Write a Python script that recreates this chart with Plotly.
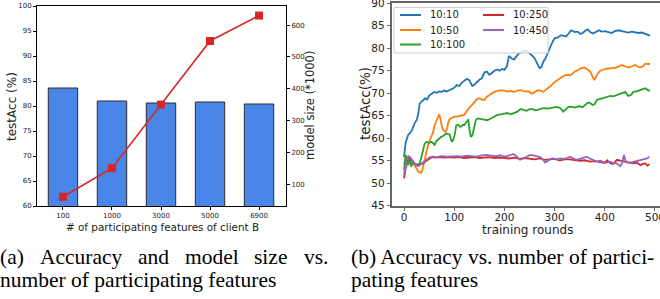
import plotly.graph_objects as go

W, H = 660, 299

# ---------------- data: (a) accuracy & model size ----------------
feature_labels = ["100", "1000", "3000", "5000", "6900"]
test_acc = [83.6, 81.0, 80.6, 80.8, 80.4]
model_size = [60, 150, 350, 550, 630]
size_ticks = [100, 200, 300, 400, 500, 600]

# ---------------- data: (b) accuracy vs rounds ----------------
series_names = ["10:10", "10:50", "10:100", "10:250", "10:450"]
series_colors = ["#1f77b4", "#ff7f0e", "#2ca02c", "#d62728", "#9467bd"]

r_1010 = [0, 3, 8, 12, 15, 21, 25, 28, 31, 34, 38, 42, 46, 50, 55, 60, 65, 70, 75, 80, 85, 90, 95, 100,
          105, 110, 115, 120, 125, 130, 136, 140, 145, 150, 155, 160, 165, 170, 175, 180, 186, 190, 195,
          200, 205, 209, 214, 219, 224, 229, 235, 240, 245, 250, 255, 260, 265, 270, 274, 277, 282, 286,
          290, 295, 300, 306, 313, 318, 323, 328, 333, 340, 346, 351, 356, 361, 366, 371, 376, 382, 388,
          394, 401, 407, 414, 420, 427, 434, 441, 447, 454, 460, 467, 474, 481, 486, 490]
acc_1010 = [55.8, 58.9, 60.7, 61.3, 61.6, 63.3, 64.0, 65.2, 67.6, 68.1, 68.4, 68.9, 68.6, 69.5, 70.0, 70.3,
            70.1, 70.4, 70.3, 70.6, 70.4, 70.7, 71.0, 71.2, 71.8, 71.6, 72.3, 72.8, 73.2, 72.9, 71.6, 71.9,
            72.5, 73.0, 73.3, 74.6, 74.8, 74.1, 74.5, 75.0, 75.3, 75.0, 75.4, 75.2, 76.0, 78.3, 77.8, 77.5,
            78.2, 78.9, 79.2, 79.5, 79.4, 79.0, 78.4, 77.8, 76.8, 75.6, 75.8, 76.9, 77.8, 78.9, 80.0, 81.2,
            82.2, 82.4, 82.9, 82.7, 82.6, 83.3, 84.0, 83.6, 83.7, 83.2, 83.4, 83.9, 84.2, 83.6, 83.3, 83.6,
            84.0, 83.7, 83.8, 83.6, 83.4, 83.8, 84.0, 83.8, 83.7, 83.5, 83.7, 83.6, 83.4, 83.5, 83.2, 82.9, 82.8]

r_1050 = [0, 2, 5, 8, 11, 14, 18, 21, 25, 28, 31, 34, 36, 39, 42, 45, 48, 51, 54, 58, 61, 64, 67, 70, 73,
          76, 79, 82, 85, 88, 91, 95, 100, 105, 110, 115, 120, 125, 130, 137, 141, 145, 150, 155, 160, 165,
          170, 175, 180, 186, 193, 200, 206, 213, 220, 226, 233, 240, 249, 253, 257, 262, 267, 272, 277,
          282, 287, 292, 297, 303, 310, 315, 320, 325, 330, 335, 340, 346, 353, 360, 366, 371, 376, 379,
          382, 386, 391, 397, 404, 410, 416, 421, 427, 434, 440, 447, 454, 461, 466, 470, 476, 481, 486, 490]
acc_1050 = [54.4, 55.0, 55.9, 55.6, 55.8, 55.0, 54.4, 53.8, 53.3, 52.6, 52.5, 52.3, 52.8, 54.6, 55.6, 57.2,
            58.5, 59.5, 60.3, 61.4, 62.9, 63.8, 64.8, 65.3, 64.0, 62.3, 61.6, 61.5, 61.8, 63.5, 64.3, 64.6,
            64.8, 64.8, 64.9, 65.0, 65.2, 66.0, 66.8, 67.6, 68.3, 68.7, 68.9, 68.6, 68.5, 69.2, 69.6, 70.0,
            70.3, 70.5, 70.7, 70.6, 70.4, 70.5, 70.3, 70.6, 70.7, 70.4, 70.4, 70.0, 70.0, 70.4, 70.7, 70.6,
            70.3, 70.7, 71.1, 71.6, 72.2, 72.8, 73.3, 73.6, 74.0, 74.1, 74.0, 74.3, 74.8, 75.1, 75.6, 75.7,
            75.3, 74.8, 73.6, 72.9, 73.6, 74.4, 75.0, 75.3, 75.5, 75.5, 75.7, 75.6, 75.9, 76.3, 76.0, 75.7,
            76.0, 76.3, 75.9, 75.7, 76.0, 76.6, 76.5, 76.5]

r_10100 = [0, 3, 6, 8, 11, 14, 18, 21, 25, 28, 31, 34, 38, 41, 45, 50, 55, 58, 61, 64, 68, 71, 74, 78, 84,
           88, 91, 95, 98, 101, 104, 108, 111, 114, 117, 120, 124, 128, 131, 133, 136, 140, 143, 146, 150,
           155, 160, 166, 173, 180, 186, 193, 199, 206, 213, 220, 226, 232, 239, 244, 249, 255, 261, 267,
           273, 280, 287, 293, 300, 307, 312, 317, 322, 327, 333, 340, 346, 351, 356, 361, 366, 371, 376,
           380, 384, 390, 397, 404, 411, 417, 424, 429, 434, 441, 444, 447, 452, 457, 463, 470, 476, 481,
           486, 490]
acc_10100 = [52.9, 56.3, 55.2, 54.0, 55.6, 53.7, 54.8, 54.4, 54.0, 54.2, 54.4, 55.5, 57.8, 58.8, 59.2, 59.0,
             59.2, 58.8, 58.5, 59.3, 59.6, 60.0, 60.3, 60.5, 61.1, 61.0, 60.8, 59.2, 59.6, 60.8, 62.9, 63.0,
             62.6, 62.6, 63.0, 62.9, 63.6, 64.2, 61.5, 60.3, 60.6, 62.6, 64.0, 64.4, 64.3, 64.3, 64.2, 64.0,
             64.4, 64.8, 65.2, 65.3, 65.5, 65.6, 65.3, 65.6, 65.9, 66.5, 66.3, 66.1, 66.4, 66.5, 66.2, 66.3,
             66.6, 66.7, 66.6, 66.8, 66.9, 66.9, 66.6, 65.9, 66.5, 66.9, 67.0, 66.8, 67.0, 67.1, 66.9, 67.3,
             67.9, 67.8, 67.4, 67.6, 68.5, 68.7, 68.9, 69.2, 69.4, 69.3, 69.6, 69.8, 70.1, 70.3, 69.8, 69.4,
             69.6, 70.3, 70.4, 70.7, 70.8, 71.1, 70.7, 70.5]

r_10250 = [0, 3, 5, 9, 12, 15, 18, 21, 25, 28, 31, 34, 38, 41, 45, 48, 52, 56, 62, 70, 80, 90, 100, 110,
           120, 130, 140, 150, 160, 170, 180, 190, 200, 210, 220, 230, 240, 251, 260, 270, 280, 291, 300,
           310, 320, 331, 340, 350, 360, 371, 381, 391, 400, 405, 411, 417, 424, 431, 438, 444, 451, 458,
           464, 471, 476, 481, 485, 489]
acc_10250 = [51.1, 52.8, 54.6, 55.8, 55.6, 55.1, 54.7, 54.3, 54.2, 54.0, 54.2, 54.3, 54.4, 54.7, 55.0, 55.3,
             55.6, 55.8, 55.7, 55.8, 55.7, 55.8, 55.7, 55.8, 55.6, 55.7, 55.8, 55.6, 55.7, 55.8, 55.6, 55.7,
             55.6, 55.5, 55.7, 55.4, 55.6, 55.5, 55.3, 55.5, 55.2, 55.3, 55.4, 55.1, 55.3, 55.3, 55.2, 55.0,
             55.1, 54.8, 54.9, 54.6, 54.5, 55.1, 54.4, 54.3, 55.2, 55.0, 54.8, 54.6, 54.5, 54.4, 54.6, 54.0,
             54.3, 54.4, 53.9, 54.2]

r_10450 = [0, 3, 5, 9, 12, 15, 18, 21, 25, 28, 31, 34, 38, 41, 45, 48, 52, 58, 65, 75, 85, 95, 105, 115,
           125, 135, 145, 155, 165, 175, 185, 192, 198, 205, 212, 218, 224, 231, 238, 245, 251, 258, 265,
           271, 276, 281, 287, 292, 297, 304, 311, 318, 324, 331, 337, 344, 350, 357, 364, 370, 377, 384,
           391, 397, 404, 411, 417, 424, 428, 431, 435, 438, 441, 444, 451, 458, 464, 471, 477, 484, 489]
acc_10450 = [52.0, 53.8, 55.0, 56.0, 55.8, 55.3, 54.7, 54.3, 54.0, 53.8, 54.0, 54.3, 54.6, 54.9, 55.2, 55.5,
             55.8, 55.9, 55.8, 56.0, 55.9, 56.0, 56.0, 55.9, 56.1, 56.0, 55.9, 56.2, 56.3, 56.1, 56.0, 56.2,
             55.9, 56.0, 56.2, 56.5, 56.0, 55.2, 55.5, 56.0, 56.3, 56.2, 56.0, 55.8, 55.4, 54.6, 55.0, 55.4,
             55.5, 55.3, 55.5, 55.4, 55.6, 55.9, 55.5, 55.2, 55.4, 55.7, 55.9, 55.5, 55.2, 54.8, 55.0, 54.7,
             54.6, 54.8, 54.5, 54.4, 54.0, 53.8, 54.6, 56.3, 55.2, 54.6, 54.6, 54.8, 55.0, 55.2, 55.3, 55.5, 55.9]

round_ticks = [0, 100, 200, 300, 400, 500]
series_x = [r_1010, r_1050, r_10100, r_10250, r_10450]
series_y = [acc_1010, acc_1050, acc_10100, acc_10250, acc_10450]


def px(x):
    return x / W


def py(y):
    return 1 - y / H


fig = go.Figure()

fig.add_trace(go.Bar(
    x=list(range(len(feature_labels))), y=test_acc, width=0.6,
    marker=dict(color="#4a86e8", line=dict(color="#2b2b2b", width=1)),
    xaxis="x", yaxis="y", showlegend=False))

fig.add_trace(go.Scatter(
    x=list(range(len(feature_labels))), y=model_size, mode="lines+markers",
    line=dict(color="#d62728", width=1.6),
    marker=dict(symbol="square", size=8, color="#d62728"),
    xaxis="x", yaxis="y2", showlegend=False))

for name, xs, ys, col in zip(series_names, series_x, series_y, series_colors):
    fig.add_trace(go.Scatter(x=xs, y=ys, mode="lines", name=name,
                             line=dict(color=col, width=1.8),
                             xaxis="x2", yaxis="y3", showlegend=False))

dark = "#222222"
gray = "#666666"

fig.update_layout(
    width=W, height=H, margin=dict(l=0, r=0, t=0, b=0, pad=0, autoexpand=False),
    paper_bgcolor="white", plot_bgcolor="white",
    font=dict(family="DejaVu Sans", color=dark),
    showlegend=False,
    xaxis=dict(domain=[px(37), px(286)], anchor="y", range=[-0.53, 4.55], automargin=False,
               tickmode="array", tickvals=list(range(len(feature_labels))), ticktext=feature_labels,
               showline=True, linecolor="black", linewidth=1, mirror=True,
               ticks="outside", ticklen=3, tickcolor="black", tickfont=dict(size=7, color=dark),
               showgrid=False, zeroline=False),
    yaxis=dict(domain=[py(206), py(6)], anchor="x", range=[60, 100], tick0=60, dtick=5, automargin=False,
               ticklabeloverflow="allow",
               showline=True, linecolor="black", linewidth=1, mirror=True,
               ticks="outside", ticklen=3, tickcolor="black", tickfont=dict(size=7, color=dark),
               showgrid=False, zeroline=False),
    yaxis2=dict(overlaying="y", anchor="x", side="right", range=[31, 660], automargin=False,
                tickmode="array", tickvals=size_ticks, ticklabeloverflow="allow",
                showline=True, linecolor="black", linewidth=1,
                ticks="outside", ticklen=3, tickcolor="black", tickfont=dict(size=7, color=dark),
                showgrid=False, zeroline=False),
    xaxis2=dict(domain=[px(392), 1.0], anchor="y3", range=[-24, 510], automargin=False,
                tickmode="array", tickvals=round_ticks, ticklabeloverflow="allow",
                ticklabelstandoff=-3,
                showline=True, linecolor=gray, linewidth=1.5, mirror=True,
                ticks="outside", ticklen=3.5, tickcolor=gray, tickfont=dict(size=10.5, color=dark),
                showgrid=False, zeroline=False),
    yaxis3=dict(domain=[py(205.7), py(3.3)], anchor="x2", range=[45, 90], tick0=45, dtick=5,
                automargin=False, ticklabeloverflow="allow",
                showline=True, linecolor=gray, linewidth=1.5,
                ticks="outside", ticklen=3.5, tickcolor=gray, tickfont=dict(size=10.5, color=dark),
                showgrid=False, zeroline=False),
)

# ---------- legend for (b), drawn as a framed box ----------
shapes = [dict(type="rect", xref="paper", yref="paper", layer="above",
               x0=px(394), x1=px(548), y0=py(53), y1=py(7.5),
               fillcolor="rgba(255,255,255,0.8)", line=dict(color="#cccccc", width=1))]
annotations = []
legend_slots = [(400, 15), (400, 30), (400, 44.5), (483, 15), (483, 30)]
for (lx, ly), name, col in zip(legend_slots, series_names, series_colors):
    shapes.append(dict(type="line", xref="paper", yref="paper", layer="above",
                       x0=px(lx), x1=px(lx + 21), y0=py(ly), y1=py(ly),
                       line=dict(color=col, width=2)))
    annotations.append(dict(text=name, xref="paper", yref="paper", x=px(lx + 28), y=py(ly),
                            xanchor="left", yanchor="middle", showarrow=False,
                            font=dict(size=10, color=dark)))

# ---------- axis titles ----------
annotations += [
    dict(text="testAcc (%)", x=px(12), y=py(107), textangle=-90, font=dict(size=12, color=dark)),
    dict(text="model size (*1000)", x=px(310), y=py(106), textangle=-90, font=dict(size=11.5, color=dark)),
    dict(text="# of participating features of client B", x=px(162), y=py(227), font=dict(size=10.4, color=dark)),
    dict(text="testAcc(%)", x=px(365), y=py(103), textangle=-90, font=dict(size=13.5, color=dark)),
    dict(text="training rounds", x=px(527), y=py(230), font=dict(size=12, color=dark)),
]
for a in annotations[-5:]:
    a.update(xref="paper", yref="paper", showarrow=False, xanchor="center", yanchor="middle",
             borderpad=0)

# ---------- captions ----------
cap_font = dict(family="Liberation Serif", size=21.5, color="black")
cap_words_a1 = ["(a)", "Accuracy", "and", "model", "size", "vs."]
cap_word_x_a1 = [-2, 37.7, 135.9, 182.7, 252.3, 301.5]
for wtxt, wx in zip(cap_words_a1, cap_word_x_a1):
    annotations.append(dict(text=wtxt, xref="paper", yref="paper", x=px(wx), y=py(257),
                            xanchor="left", yanchor="middle", showarrow=False, font=cap_font))
annotations += [
    dict(text="number of participating features", x=px(-2), y=py(280)),
    dict(text="(b) Accuracy vs. number of partici-", x=px(349), y=py(257)),
    dict(text="pating features", x=px(349), y=py(280)),
]
for a in annotations[-3:]:
    a.update(xref="paper", yref="paper", xanchor="left", yanchor="middle", showarrow=False, font=cap_font)

fig.update_layout(shapes=shapes, annotations=annotations)

fig.write_html("out.html", config={"displayModeBar": False},
               post_script="document.body.style.margin='0';document.body.style.overflow='hidden';")
